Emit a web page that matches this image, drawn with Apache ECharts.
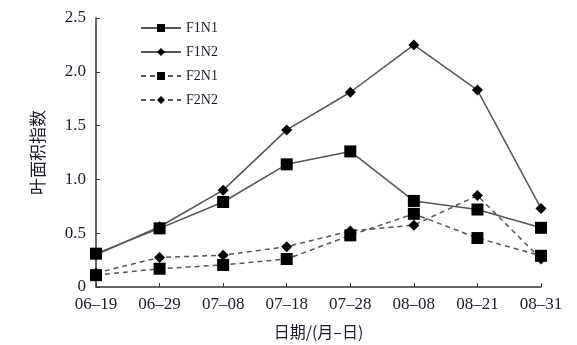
<!DOCTYPE html>
<html>
<head>
<meta charset="utf-8">
<script src="https://cdn.jsdelivr.net/npm/echarts@6/dist/echarts.min.js"></script>
<style>html,body{margin:0;padding:0;background:#fff}#c{width:577px;height:345px}</style>
</head>
<body>
<div id="c"></div>
<script>
const categories = ['06\u201319','06\u201329','07\u201308','07\u201318','07\u201328','08\u201308','08\u201321','08\u201331'];
const F1N1 = [0.31, 0.545, 0.79, 1.14, 1.26, 0.80, 0.72, 0.55];
const F1N2 = [0.30, 0.56, 0.90, 1.46, 1.81, 2.25, 1.83, 0.73];
const F2N1 = [0.11, 0.17, 0.205, 0.26, 0.48, 0.68, 0.455, 0.29];
const F2N2 = [0.13, 0.275, 0.295, 0.375, 0.52, 0.575, 0.85, 0.26];
const yTicks = [0, 0.5, 1.0, 1.5, 2.0, 2.5];

const serif = 'Liberation Serif';
const cjk = 'Noto Sans CJK SC';
const lineColor = '#555';

function mk(name, data, symbol, size, dashed) {
  return {
    name, type: 'line', data,
    symbol, symbolSize: size,
    lineStyle: { color: lineColor, width: 1.5, type: dashed ? [5, 4] : 'solid' },
    itemStyle: { color: '#000', borderColor: '#000', borderWidth: 0 },
    emphasis: { disabled: true },
    animation: false
  };
}

const chart = echarts.init(document.getElementById('c'), null, { renderer: 'canvas' });
chart.setOption({
  animation: false,
  backgroundColor: '#fff',
  grid: { left: 96, right: 36, top: 18, bottom: 55, containLabel: false },
  legend: {
    orient: 'vertical', left: 140, top: 21, padding: 0,
    itemWidth: 40, itemHeight: 10, itemGap: 10,
    textStyle: { fontFamily: serif, fontSize: 14, color: '#1a1a2a' },
    data: ['F1N1', 'F1N2', 'F2N1', 'F2N2']
  },
  xAxis: {
    type: 'category', data: categories, boundaryGap: false,
    name: '日期/(月\u2013日)', nameLocation: 'middle', nameGap: 37,
    nameTextStyle: { fontFamily: cjk, fontSize: 16, color: '#1a1a2a' },
    axisLine: { lineStyle: { color: '#333', width: 1.5 } },
    axisTick: { inside: true, length: 4, lineStyle: { color: '#333' } },
    axisLabel: { fontFamily: serif, fontSize: 17, color: '#1a1a2a', margin: 9, interval: 0 },
    splitLine: { show: false }
  },
  yAxis: {
    type: 'value', min: 0, max: 2.5, interval: 0.5,
    name: '叶面积指数', nameLocation: 'middle', nameGap: 50, nameRotate: 90,
    nameTextStyle: { fontFamily: cjk, fontSize: 17, color: '#1a1a2a' },
    axisLine: { show: true, lineStyle: { color: '#333', width: 1.5 } },
    axisTick: { show: true, inside: true, length: 4, lineStyle: { color: '#333' } },
    axisLabel: {
      fontFamily: serif, fontSize: 17, color: '#1a1a2a', margin: 10,
      formatter: v => { const t = yTicks.find(x => Math.abs(x - v) < 1e-9); return t === 0 ? '0' : (t !== undefined ? t.toFixed(1) : ''); }
    },
    splitLine: { show: false }
  },
  series: [
    mk('F1N1', F1N1, 'rect', 12, false),
    mk('F1N2', F1N2, 'diamond', 11, false),
    mk('F2N1', F2N1, 'rect', 12, true),
    mk('F2N2', F2N2, 'diamond', 11, true)
  ]
});
</script>
</body>
</html>
